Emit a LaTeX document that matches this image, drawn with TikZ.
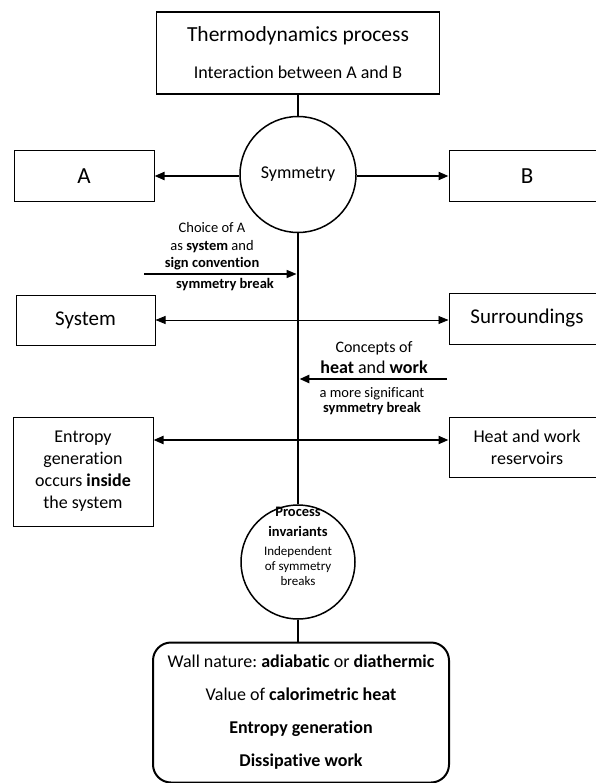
\documentclass[tikz,border=0pt]{standalone}
\usepackage{fontspec}
\setmainfont{Carlito}[Ligatures=NoCommon]
\frenchspacing
\usetikzlibrary{arrows.meta}
\newcommand{\fsz}[2]{\fontsize{#1}{#2}\selectfont}
\tikzset{
  >={Triangle[length=10pt,width=8pt]},
  box/.style={draw, line width=1pt, inner sep=0pt, align=center},
  ring/.style={draw, circle, line width=1.5pt, inner sep=0pt, align=center},
  spine/.style={line width=2.8pt},
  arr/.style={->, line width=2pt},
  twoway/.style={<->},
  note/.style={inner sep=0pt, align=center, font=\fsz{14.5}{17.5}},
}
\begin{document}
\begin{tikzpicture}[x=1pt,y=-1pt]
  \useasboundingbox (0,0) rectangle (595,783);
  \node[box, line width=1.8pt, minimum width=283, minimum height=82] (proc) at (298,53)
    {\fsz{21.5}{26}Thermodynamics process\\[20pt]\fsz{18}{22}Interaction between A and B};
  \node[ring, minimum size=116, font=\fsz{18}{22}] (sym) at (298,174.5) {Symmetry};
  \node[box, minimum width=140, minimum height=51, font=\fsz{23}{28}] (A) at (84,176) {A};
  \node[box, minimum width=156, minimum height=51, font=\fsz{23}{28}] (B) at (527,176) {B};
  \node[box, minimum width=139, minimum height=50, font=\fsz{21}{26}] (sys) at (85.5,320) {System};
  \node[box, minimum width=156, minimum height=51, font=\fsz{21}{26}] (sur) at (527,318.5) {Surroundings};
  \node[box, minimum width=140, minimum height=109, font=\fsz{18}{22}] (ent) at (83,471.5)
    {Entropy\\generation\\occurs \textbf{inside}\\the system};
  \node[box, minimum width=156, minimum height=60, font=\fsz{18}{22}] (res) at (527,447)
    {Heat and work\\reservoirs};
  \node[ring, minimum size=114] (inv) at (298,562) {};
  \node[inner sep=0pt, align=center, font=\fsz{13}{15}] (invtext) at (298,546)
    {\fsz{14.5}{15}\bfseries Process\\[5pt]\fsz{14.5}{15}\bfseries invariants\\[4pt]Independent\\of symmetry\\breaks};
  \node[box, line width=2pt, rounded corners=18pt, minimum width=296, minimum height=140, font=\fsz{18}{33}] (wall) at (301,712.5)
    {Wall nature: \textbf{adiabatic} or \textbf{diathermic}\\Value of \textbf{calorimetric heat}\\\textbf{Entropy generation}\\\textbf{Dissipative work}};
  \node[note] (choice) at (212,246.5) {Choice of A\\as \textbf{system} and\\\textbf{sign convention}};
  \node[note] (brk1) at (225,285) {\textbf{symmetry break}};
  \node[note, font=\fsz{16}{21}] (concept) at (374,358) {Concepts of\\\fsz{18}{21}\textbf{heat} and \textbf{work}};
  \node[note, font=\fsz{14.5}{15}] (brk2) at (372,401) {a more significant\\\textbf{symmetry break}};
  \coordinate (c0) at (144,274);
  \coordinate (c1) at (447,379);
  \coordinate (hw) at (298,440);
  \draw[spine] (proc.south) -- (sym.north) (sym.south) -- (inv.north) (inv.south) -- (inv.south |- wall.north);
  \begin{scope}[arr]
    \draw[line width=2pt] (sym.west |- A) -- (A.east);
    \draw[line width=2pt] (sym.east |- B) -- (B.west);
    \draw[line width=1.5pt, shorten >=1.4pt] (c0) -- (c0 -| sym.south);
    \draw[line width=2.5pt, shorten >=1.4pt] (c1) -- (c1 -| sym.south);
    \draw[twoway, line width=0.8pt] (sys.east) -- (sys.east -| sur.west);
    \draw[twoway, line width=2pt] (ent.east |- hw) -- (res.west |- hw);
  \end{scope}
\end{tikzpicture}
\end{document}
